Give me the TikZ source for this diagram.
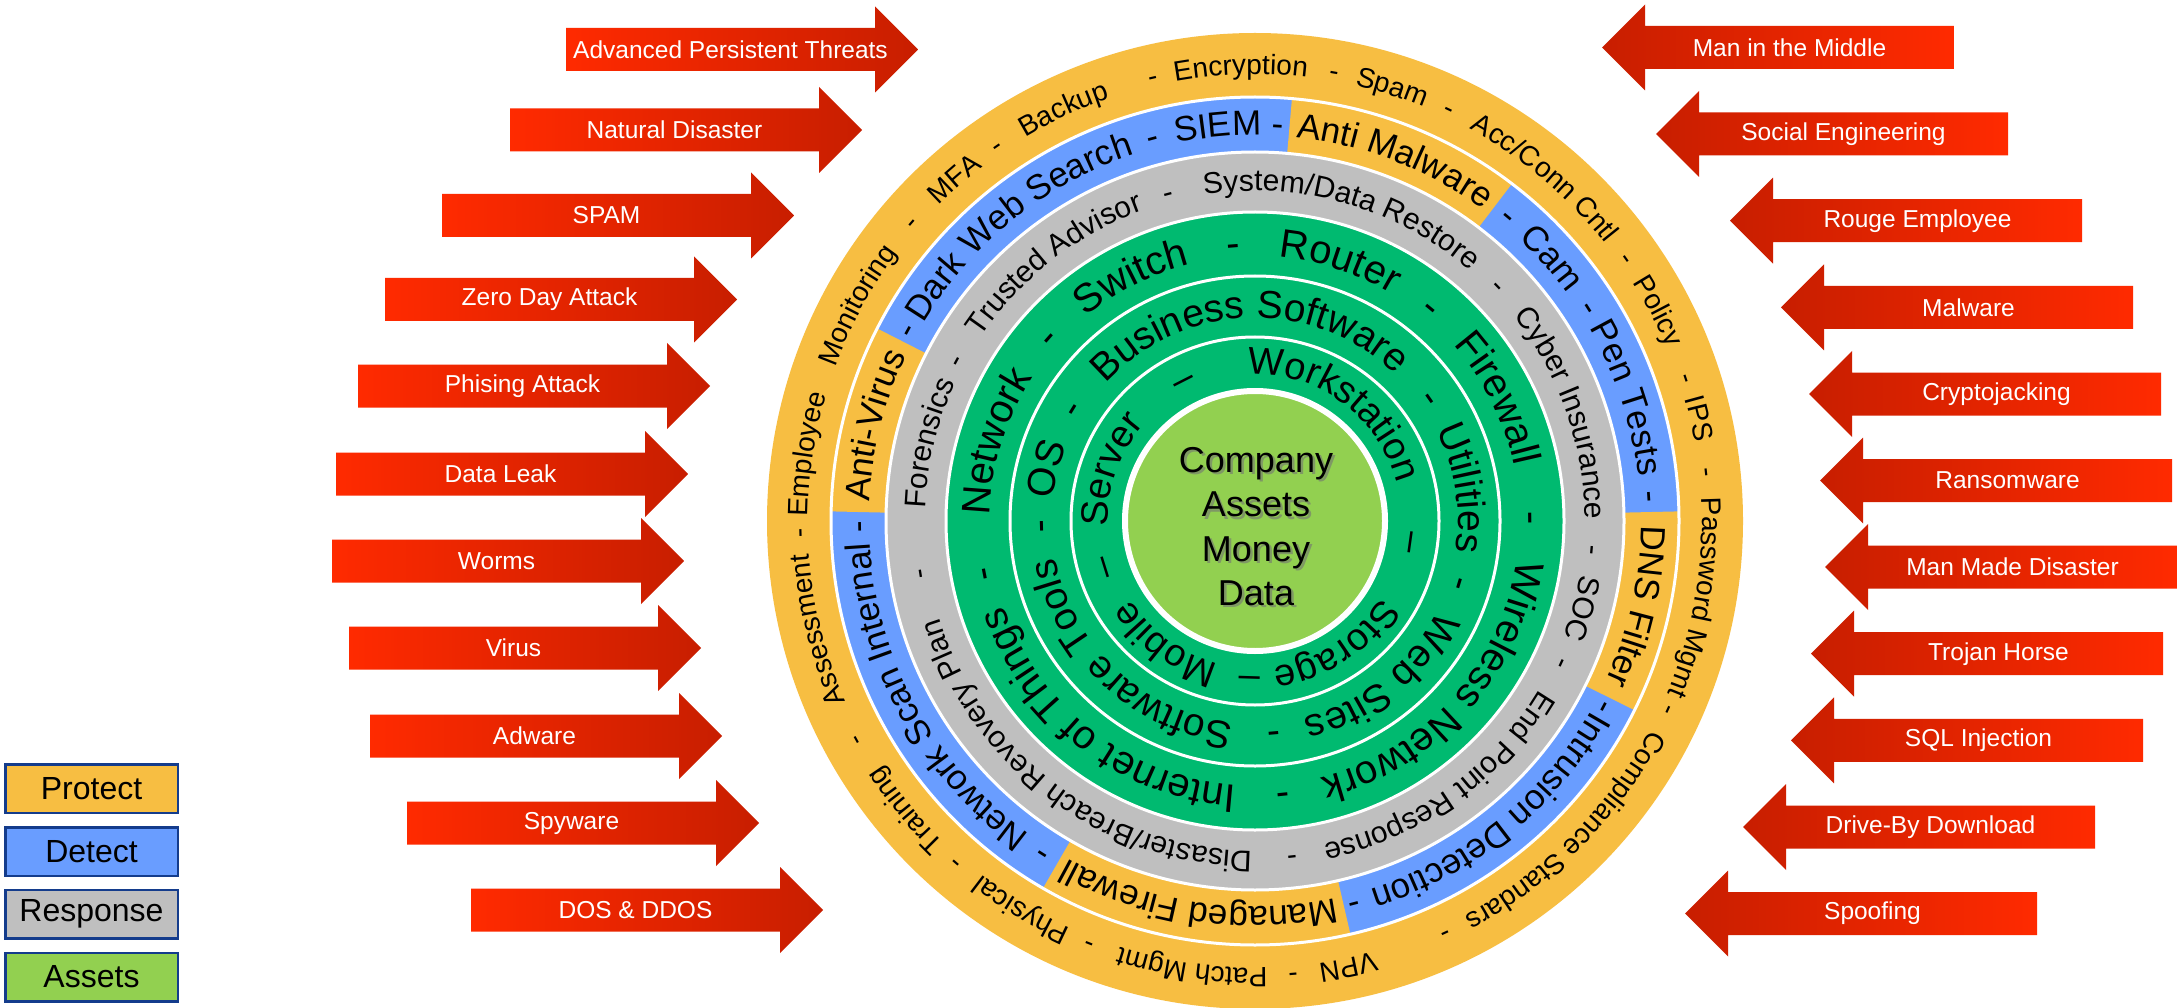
\documentclass[tikz,border=0pt]{standalone}
\usepackage{fontspec}
\setmainfont{Liberation Sans}
\usetikzlibrary{decorations.text}
\definecolor{ringOrange}{RGB}{247,190,66}
\definecolor{ringBlue}{RGB}{105,157,255}
\definecolor{ringGray}{RGB}{191,191,191}
\definecolor{ringGreen}{RGB}{0,186,112}
\definecolor{coreGreen}{RGB}{146,208,80}
\definecolor{legBorder}{RGB}{20,60,140}
\definecolor{arrA}{RGB}{255,42,0}
\definecolor{arrB}{RGB}{200,30,0}
\tikzset{
  arrlabel/.style={text=white,font=\fontsize{24.5}{24.5}\selectfont,inner sep=0pt},
  legbox/.style={draw=legBorder,line width=2.5pt,minimum width=172.5pt,minimum height=48.5pt,inner sep=0pt,font=\fontsize{32}{32}\selectfont,text=black},
  coretext/.style={font=\fontsize{36}{44.3}\selectfont,align=center,inner sep=0pt}
}
\newcommand\ringtext[4]{%
  \path[decorate,decoration={text along path,text align=center,
    text={|\fontsize{#3}{#3}\selectfont|#4}}]
    ({#2+100}:#1pt) arc[start angle={#2+100},end angle={#2-100},radius=#1pt];}
\newcommand\larrow[4]{%
  \shade[left color=arrA,right color=arrB] ({#2-352},{-#3+21.5}) -- ({#2-43},{-#3+21.5}) -- ({#2-43},{-#3+43}) -- (#2,-#3) -- ({#2-43},{-#3-43}) -- ({#2-43},{-#3-21.5}) -- ({#2-352},{-#3-21.5}) -- cycle;
  \node[arrlabel] (#1) at ({#2-187.5},-#3) {#4};}
\newcommand\rarrow[4]{%
  \shade[left color=arrB,right color=arrA] (#2,-#3) -- ({#2+43},{-#3+43}) -- ({#2+43},{-#3+21.5}) -- ({#2+352},{-#3+21.5}) -- ({#2+352},{-#3-21.5}) -- ({#2+43},{-#3-21.5}) -- ({#2+43},{-#3-43}) -- cycle;
  \node[arrlabel] (#1) at ({#2+187.5},-#3) {#4};}
\begin{document}
\begin{tikzpicture}[x=1pt,y=1pt]
\fill[white] (0,0) rectangle (2177,-1008);
\useasboundingbox (0,0) rectangle (2177,-1008);

% threat arrows, left
\larrow{la1}{918}{49.5}{Advanced Persistent Threats}
\larrow{la2}{862}{130}{Natural Disaster}
\larrow{la3}{794}{215.5}{SPAM}
\larrow{la4}{737}{299.5}{Zero Day Attack}
\larrow{la5}{710}{386}{Phising Attack}
\larrow{la6}{688}{474}{Data Leak}
\larrow{la7}{684}{561}{Worms}
\larrow{la8}{701}{648}{Virus}
\larrow{la9}{722}{736}{Adware}
\larrow{la10}{759}{823}{Spyware}
\larrow{la11}{823}{910}{DOS \& DDOS}
% threat arrows, right
\rarrow{ra1}{1602}{47.5}{Man in the Middle}
\rarrow{ra2}{1656}{134}{Social Engineering}
\rarrow{ra3}{1730}{220.7}{Rouge Employee}
\rarrow{ra4}{1781}{307.3}{Malware}
\rarrow{ra5}{1809}{394}{Cryptojacking}
\rarrow{ra6}{1820}{480.5}{Ransomware}
\rarrow{ra7}{1825}{567}{Man Made Disaster}
\rarrow{ra8}{1811}{653.7}{Trojan Horse}
\rarrow{ra9}{1791}{740.3}{SQL Injection}
\rarrow{ra10}{1743}{827}{Drive-By Download}
\rarrow{ra11}{1685}{913.5}{Spoofing}

% legend
\node[legbox,fill=ringOrange] (lgP) at (91.5,-788.5) {Protect};
\node[legbox,fill=ringBlue] (lgD) at (91.5,-851.5) {Detect};
\node[legbox,fill=ringGray] (lgR) at (91.5,-914) {Response};
\node[legbox,fill=coreGreen] (lgA) at (91.5,-977) {Assets};

\begin{scope}[shift={(1255,-521)}]
\fill[ringOrange] (0,0) circle[radius=488pt];
\fill[ringBlue] (0,0) circle[radius=424pt];
\foreach \a/\b in {52.7/85, -26.5/1.3, 240/283, 153/178.7}
  {\fill[ringOrange] (\a:424pt) arc[start angle=\a,end angle=\b,radius=424pt] -- (\b:369pt) arc[start angle=\b,end angle=\a,radius=369pt] -- cycle;}
\fill[ringGray] (0,0) circle[radius=369pt];
\fill[ringGreen] (0,0) circle[radius=309pt];
\foreach \r in {424,369,309,245,184} \draw[white,line width=3pt] (0,0) circle[radius=\r pt];
\fill[coreGreen] (0,0) circle[radius=130pt];
\draw[white,line width=6pt] (0,0) circle[radius=130pt];

\node[coretext,text=black!55,opacity=0.6] (coreshadow) at (3.5,-8) {Company\\Assets\\Money\\Data};
\node[coretext] (core) at (1,-5.5) {Company\\Assets\\Money\\Data};

% outer ring (protect)
\ringtext{447}{91.8}{28}{Encryption}
\ringtext{447}{80}{28}{-}
\ringtext{447}{72.4}{28}{Spam}
\ringtext{447}{64.7}{28}{-}
\ringtext{447}{49.8}{28}{Acc/Conn Cntl}
\ringtext{447}{35.2}{28}{-}
\ringtext{447}{27.5}{28}{Policy}
\ringtext{447}{18.3}{28}{-}
\ringtext{447}{13}{28}{IPS}
\ringtext{447}{6.1}{28}{-}
\ringtext{447}{-9.85}{28}{Password Mgmt}
\ringtext{447}{-24.6}{28}{-}
\ringtext{447}{-44.9}{28}{Compliance Standars}
\ringtext{447}{-65.2}{28}{-}
\ringtext{447}{-78.2}{28}{VPN}
\ringtext{447}{-85.2}{28}{-}
\ringtext{447}{-98}{28}{Patch Mgmt}
\ringtext{447}{-111.4}{28}{-}
\ringtext{447}{-121}{28}{Physical}
\ringtext{447}{-131.2}{28}{-}
\ringtext{447}{-140.4}{28}{Training}
\ringtext{447}{-151.2}{28}{-}
\ringtext{447}{-166}{28}{Assessment}
\ringtext{447}{-178.5}{28}{-}
\ringtext{447}{171.5}{28}{Employee}
\ringtext{447}{151.5}{28}{Monitoring}
\ringtext{447}{139.1}{28}{-}
\ringtext{447}{131.3}{28}{MFA}
\ringtext{447}{124.6}{28}{-}
\ringtext{447}{114.9}{28}{Backup}
\ringtext{447}{103}{28}{-}

% blue ring (detect)
\ringtext{386}{128.7}{35}{Dark Web Search}
\ringtext{386}{151.2}{35}{-}
\ringtext{386}{105}{35}{-}
\ringtext{386}{95.4}{35}{SIEM}
\ringtext{386}{86.7}{35}{-}
\ringtext{386}{68.8}{35}{Anti Malware}
\ringtext{386}{50.2}{35}{-}
\ringtext{386}{41.5}{35}{Cam}
\ringtext{386}{32.5}{35}{-}
\ringtext{386}{18.3}{35}{Pen Tests}
\ringtext{386}{3.5}{35}{-}
\ringtext{386}{-12.6}{35}{DNS Filter}
\ringtext{386}{-28}{35}{-}
\ringtext{386}{-51}{35}{Intrusion Detection}
\ringtext{386}{-75.4}{35}{-}
\ringtext{386}{-98.5}{35}{Managed Firewall}
\ringtext{386}{-122.5}{35}{-}
\ringtext{386}{-151.2}{35}{Network Scan Internal}
\ringtext{386}{-179.2}{35}{-}
\ringtext{386}{165.9}{35}{Anti-Virus}

% gray ring (response)
\ringtext{330}{74.1}{30}{System/Data Restore}
\ringtext{330}{104.8}{30}{-}
\ringtext{330}{128}{30}{Trusted Advisor}
\ringtext{330}{151.8}{30}{-}
\ringtext{330}{166.5}{30}{Forensics}
\ringtext{330}{-171}{30}{-}
\ringtext{330}{-126.7}{30}{Disaster/Breach Revovery Plan}
\ringtext{330}{-83.7}{30}{-}
\ringtext{330}{-54.4}{30}{End Point Response}
\ringtext{330}{-25}{30}{-}
\ringtext{330}{-15}{30}{SOC}
\ringtext{330}{-5}{30}{-}
\ringtext{330}{19.4}{30}{Cyber Insurance}
\ringtext{330}{44}{30}{-}

% green ring 1
\ringtext{265}{163}{40}{Network}
\ringtext{265}{138.5}{40}{-}
\ringtext{265}{116.9}{40}{Switch}
\ringtext{265}{94.5}{40}{-}
\ringtext{265}{71.9}{40}{Router}
\ringtext{265}{50.5}{40}{-}
\ringtext{265}{26.8}{40}{Firewall}
\ringtext{265}{0.6}{40}{-}
\ringtext{265}{-42}{40}{Wireless Network}
\ringtext{265}{-84.1}{40}{-}
\ringtext{265}{-127.7}{40}{Internet of Things}
\ringtext{265}{-169}{40}{-}

% green ring 2
\ringtext{203}{166}{39}{OS}
\ringtext{203}{148.5}{39}{-}
\ringtext{203}{91.8}{39}{Business Software}
\ringtext{203}{35}{39}{-}
\ringtext{203}{9.1}{39}{Utilities}
\ringtext{203}{-17}{39}{-}
\ringtext{203}{-51.2}{39}{Web Sites}
\ringtext{203}{-85}{39}{-}
\ringtext{203}{-132.8}{39}{Software Tools}
\ringtext{203}{-178.5}{39}{-}

% green ring 3
\ringtext{147}{160.5}{38}{Server}
\ringtext{147}{117}{38}{–}
\ringtext{147}{54}{38}{Workstation}
\ringtext{147}{-8}{38}{–}
\ringtext{147}{-57}{38}{Storage}
\ringtext{147}{-91.8}{38}{–}
\ringtext{147}{-126}{38}{Mobile}
\ringtext{147}{-162.7}{38}{–}
\end{scope}
\end{tikzpicture}
\end{document}
